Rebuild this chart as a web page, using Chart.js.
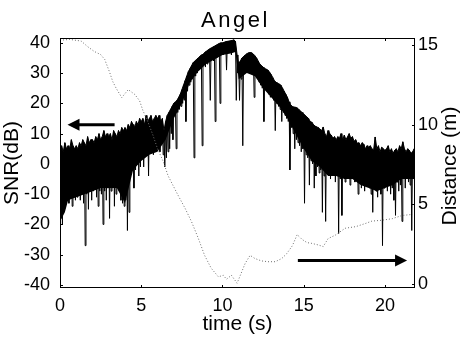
<!DOCTYPE html>
<html>
<head>
<meta charset="utf-8">
<script src="https://cdn.jsdelivr.net/npm/chart.js@4"></script>
<style>
html,body{margin:0;padding:0;background:#fff;}
canvas{display:block;}
</style>
</head>
<body>
<canvas id="chart" width="460" height="337"></canvas>
<script>
// SNR trace: one upper and one lower value per 0.1 s (dB)
const snrStep = 0.1;
const snrHi = [
  5,6,4,7,5,6,5,8,6,5,
  6,5,7,6,8,7,6,9,7,8,
  8,7,9,8,10,8,9,11,9,10,
  9,10,8,11,10,9,11,10,12,11,
  12,11,13,12,14,13,12,14,13,15,
  14,15,13,16,14,15,16,14,15,16,
  15,16,14,15,11,14,16,17,18,19,
  20,20.5,21,22,23,24.5,26,27.5,29,30.5,
  31.5,32.5,33.5,34,34.5,35,35.5,36,36.2,36.8,
  37.2,37.6,38,38.3,38.6,38.9,39.2,39.5,39.8,40,
  40,40.2,40.4,40.5,40.6,40.7,40.8,41,40.5,36,
  33,34,35,35.5,36,36.4,36.7,36.8,36.7,36.3,
  35.7,35,34,33,32.5,32,31.5,31.3,31,30.3,
  29.5,28.5,27.5,27,26.6,26.4,26,25,24,23,
  22,20.5,19.5,19,18.8,18.7,18.5,18,17.5,17,
  16.5,16,15.5,15,14,13.8,13,12.5,12.2,12,
  11.5,11,12.2,10,9,11,10,9.5,8.5,9,
  8,9,8.5,10,8,9.5,8,9,10,8.5,
  9,7.5,8,6.8,7,6,7,6.5,5,6,
  5.5,6,5,4.5,8.9,5,6,4,5.5,5,
  4.5,5,6,4,5,3.5,4.5,5,4,6,
  5,7.3,5,4,5,4.5,3.5,4,5
];
const snrLo = [
  -18,-20,-14,-12,-11,-13,-10,-14,-11,-12,
  -11,-9,-12,-10,-13,-27,-10,-15,-9,-12,
  -9,-8,-11,-14,-9,-10,-20,-9,-12,-8,
  -18,-9,-8,-14,-10,-7,-9,-12,-13,-14,
  -12,-22,-16,-3,-1,-8,-2,0,-4,-1,
  2,-1,3,5,-4,4,6,3,7,5,
  6,4,7,3,-1,2,4,5,10,8,
  16,5,17,18,19,20,21,14,24,26,
  27,28,2,29,30,31,32,6,33,32,
  33,34,21,35,34,14,35,36,20,37,
  36,37,31,37,38,36,38,39,21,30,
  21,28,6,30,31,32,31,32,30,22,
  30,28,27,26,25,14,25,24,23,22,
  22,21,11,20,19,18,14,17,16,15,
  14,-2,12,10,5,8,7,6,4,5,
  -13,3,2,-7,1,0,-8,-4,-1,-3,
  -2,-16,-4,-19,-3,-2,-5,-1,-4,-6,
  -3,-23,-5,-17,-2,-6,-4,-3,-7,-5,
  -4,-6,-3,-10,-5,-8,-6,-9,-7,-5,
  -8,-10,-16,-7,-9,-11,-6,-10,-27,-8,
  -7,-9,-6,-10,-8,-12,-17,-6,-9,-7,
  -19,-5,-8,-4,-6,-7,-22,-5,-27
];
// lower edge of the solid part of the trace (dB)
const coreTime = [0,0.3,0.5,1,1.5,2,2.5,3,3.5,4,4.5,5,5.5,6,6.5,7,7.5,8,8.5,9,9.5,10,10.5,10.8,
  11,11.5,12,12.5,13,13.5,14,14.5,15,15.5,16,16.5,17,17.5,18,18.5,19,19.5,20,20.5,21,21.5,21.85];
const coreVal = [-19,-16,-12,-11,-10,-9,-8,-8,-8,-13,-2,1,3,4,8,15,20,27,30.5,33,34.5,36,36.5,37,
  28,30,29,25,22,19,15,10,5,1,-1,-4,-4,-5,-5,-7,-8,-9,-8,-7,-5,-5,-5];

// distance (m) against time (s)
const distTime = [0,0.6,1.3,1.7,2.1,2.5,2.75,3.05,3.25,3.45,3.8,4.2,4.6,4.9,5.1,5.4,5.7,6.0,6.35,6.65,
  6.95,7.25,7.7,8.1,8.5,8.9,9.3,9.75,10.05,10.25,10.55,10.9,11.1,11.4,11.7,12.0,12.4,12.8,13.25,13.65,
  13.95,14.3,14.6,14.9,15.2,15.5,15.9,16.2,16.5,16.95,17.55,18.2,18.8,19.2,19.8,20.45,21.05,21.7];
const distVal = [15.3,15.35,15.25,14.9,14.6,14.4,14.1,13.3,12.7,12.3,11.7,12.2,11.9,11.5,10.9,10.2,9.4,8.5,7.7,6.8,
  6.2,5.6,4.75,3.9,2.9,1.8,1.0,0.45,0.55,0.3,0.55,0.05,0.55,1.3,1.8,1.6,1.45,1.4,1.4,1.6,
  1.9,2.4,3.1,2.8,2.6,2.55,2.45,2.35,2.85,3.07,3.5,3.6,3.8,3.95,4.0,4.1,4.3,4.37];

const timeTicks = [0,5,10,15,20];
const snrTicks = [-40,-30,-20,-10,0,10,20,30,40];
const distTicks = [0,5,10,15];

// arrows: [t start, t end, value, axis]
const arrows = [
  [3.36, 0.46, 12.9, 'y'],
  [14.64, 21.36, 1.47, 'y2']
];

let snrData = [];
for (let i = 0; i < snrHi.length; i++) {
  snrData.push({x: i*snrStep, y: snrHi[i]});
  snrData.push({x: i*snrStep + snrStep/2, y: snrLo[i]});
}
let topData = snrHi.map((v, i) => ({x: i*snrStep, y: v}));
let coreData = coreTime.map((t, i) => ({x: t, y: coreVal[i]}));
let distData = distTime.map((t, i) => ({x: t, y: distVal[i]}));

const FONT = "'Liberation Sans', Arial, Helvetica, sans-serif";
Chart.defaults.font.family = FONT;
Chart.defaults.color = '#000';

function setTicks(list) {
  return s => { s.ticks = list.map(v => ({value: v})); };
}

const extras = {
  id: 'extras',
  afterDraw(chart) {
    const ctx = chart.ctx;
    const a = chart.chartArea;
    const sx = chart.scales.x;
    ctx.save();
    ctx.strokeStyle = '#000';
    ctx.lineWidth = 1;
    ctx.strokeRect(a.left + 0.5, a.top + 0.5, a.right - a.left - 1, a.bottom - a.top - 1);

    // small inward ticks
    ctx.beginPath();
    timeTicks.forEach(v => {
      const px = Math.round(sx.getPixelForValue(v)) + 0.5;
      ctx.moveTo(px, a.bottom); ctx.lineTo(px, a.bottom - 3);
      ctx.moveTo(px, a.top); ctx.lineTo(px, a.top + 3);
    });
    snrTicks.forEach(v => {
      const py = Math.round(chart.scales.y.getPixelForValue(v)) + 0.5;
      ctx.moveTo(a.left, py); ctx.lineTo(a.left + 3, py);
    });
    distTicks.forEach(v => {
      const py = Math.round(chart.scales.y2.getPixelForValue(v)) + 0.5;
      ctx.moveTo(a.right, py); ctx.lineTo(a.right - 3, py);
    });
    ctx.stroke();

    // arrows
    ctx.fillStyle = '#000';
    arrows.forEach(([t0, t1, v, ax]) => {
      const x0 = sx.getPixelForValue(t0), x1 = sx.getPixelForValue(t1);
      const py = chart.scales[ax].getPixelForValue(v);
      const dir = Math.sign(x1 - x0);
      ctx.lineWidth = 3;
      ctx.beginPath();
      ctx.moveTo(x0, py); ctx.lineTo(x1 - dir*10, py);
      ctx.stroke();
      ctx.beginPath();
      ctx.moveTo(x1, py);
      ctx.lineTo(x1 - dir*12, py - 6);
      ctx.lineTo(x1 - dir*12, py + 6);
      ctx.closePath();
      ctx.fill();
    });

    // title
    ctx.font = '22px ' + FONT;
    ctx.textAlign = 'center';
    ctx.textBaseline = 'alphabetic';
    if ('letterSpacing' in ctx) ctx.letterSpacing = '2.5px';
    ctx.fillText('Angel', (a.left + a.right)/2 - 2, 27);
    if ('letterSpacing' in ctx) ctx.letterSpacing = '0px';

    // right axis title, reading upwards
    ctx.font = '21px ' + FONT;
    ctx.translate(450.5, (a.top + a.bottom)/2 + 3);
    ctx.rotate(-Math.PI/2);
    ctx.textBaseline = 'middle';
    ctx.fillText('Distance (m)', 0, 0);
    ctx.restore();
  }
};

new Chart(document.getElementById('chart'), {
  type: 'line',
  data: {
    datasets: [
      {
        label: 'Distance',
        data: distData,
        yAxisID: 'y2',
        borderColor: '#6e6e6e',
        borderWidth: 1,
        borderDash: [1, 2],
        pointRadius: 0,
        tension: 0
      },
      {
        label: 'SNR',
        data: snrData,
        yAxisID: 'y',
        borderColor: '#000',
        borderWidth: 1,
        pointRadius: 0,
        tension: 0
      },
      {
        label: 'SNR top',
        data: topData,
        yAxisID: 'y',
        borderColor: '#000',
        borderWidth: 1,
        backgroundColor: '#000',
        fill: '+1',
        pointRadius: 0,
        tension: 0
      },
      {
        label: 'SNR core',
        data: coreData,
        yAxisID: 'y',
        borderColor: 'rgba(0,0,0,0)',
        borderWidth: 0,
        pointRadius: 0,
        tension: 0
      }
    ]
  },
  options: {
    responsive: false,
    animation: false,
    events: [],
    layout: {padding: {top: 38, left: 0, right: 0, bottom: 0}},
    plugins: {
      legend: {display: false},
      tooltip: {enabled: false},
      title: {display: false}
    },
    scales: {
      x: {
        type: 'linear',
        min: 0,
        max: 21.85,
        afterBuildTicks: setTicks(timeTicks),
        afterFit: s => { s.height = 49; },
        grid: {display: false, drawTicks: false},
        border: {display: false},
        ticks: {font: {size: 18}, padding: 7, maxRotation: 0, autoSkip: false},
        title: {display: true, text: 'time (s)', font: {size: 21}, padding: 0}
      },
      y: {
        position: 'left',
        min: -41,
        max: 41.6,
        afterBuildTicks: setTicks(snrTicks),
        afterFit: s => { s.width = 60; },
        grid: {display: false, drawTicks: false},
        border: {display: false},
        ticks: {font: {size: 18}, padding: 10, autoSkip: false},
        title: {display: true, text: 'SNR(dB)', font: {size: 21}, padding: 0}
      },
      y2: {
        position: 'right',
        min: -0.25,
        max: 15.44,
        afterBuildTicks: setTicks(distTicks),
        afterFit: s => { s.width = 45; },
        grid: {display: false, drawTicks: false},
        border: {display: false},
        ticks: {font: {size: 18}, padding: 3, autoSkip: false}
      }
    }
  },
  plugins: [extras]
});
</script>
</body>
</html>
